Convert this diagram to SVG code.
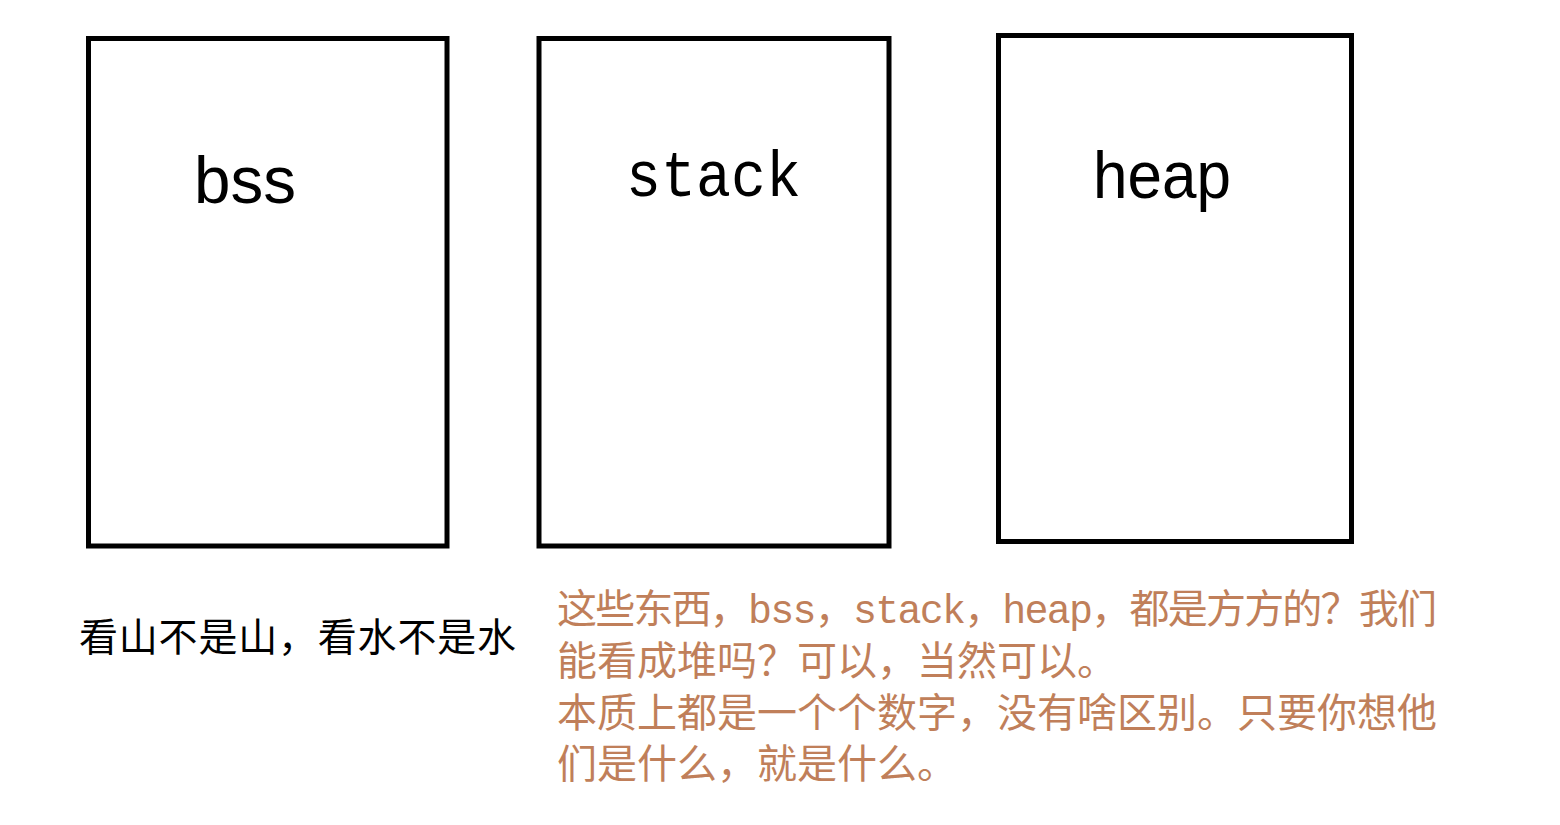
<svg xmlns="http://www.w3.org/2000/svg" width="1560" height="825" viewBox="0 0 1560 825">
<style>
.box{fill:#fff;stroke:#000;stroke-width:5}
.lbl{font-family:"Liberation Sans",Arial,sans-serif;fill:#000}
.mono{font-family:"Liberation Mono","DejaVu Sans Mono",monospace;fill:#000}
.cn{font-family:"Noto Sans CJK SC",sans-serif;font-size:39px;fill:#000}
.note{font-family:"Liberation Mono","Noto Sans CJK SC",sans-serif;font-size:40px;fill:#c07f5a}
</style>
<rect width="1560" height="825" fill="#fff"/>
<g id="bss">
<rect class="box" x="88.5" y="38.5" width="358.5" height="507.5"/>
<text class="lbl" x="194" y="203" font-size="66" textLength="102" lengthAdjust="spacingAndGlyphs">bss</text>
</g>
<g id="stack">
<rect class="box" x="539" y="38.5" width="350" height="507.5"/>
<text class="mono" x="626" y="196" font-size="64" textLength="175" lengthAdjust="spacingAndGlyphs">stack</text>
</g>
<g id="heap">
<rect class="box" x="998.5" y="35.5" width="353" height="506"/>
<text class="lbl" x="1093" y="198" font-size="66" textLength="138" lengthAdjust="spacingAndGlyphs">heap</text>
</g>
<g id="connectors"/>
<g id="caption">
<text class="cn" x="79" y="651" textLength="437" lengthAdjust="spacing">看山不是山，看水不是水</text>
</g>
<g id="note">
<text class="note" x="557" y="623" textLength="880" lengthAdjust="spacing">这些东西，bss，stack，heap，都是方方的？我们</text>
<text class="note" x="557" y="675">能看成堆吗？可以，当然可以。</text>
<text class="note" x="557" y="727" textLength="880" lengthAdjust="spacing">本质上都是一个个数字，没有啥区别。只要你想他</text>
<text class="note" x="557" y="778">们是什么，就是什么。</text>
</g>
</svg>
